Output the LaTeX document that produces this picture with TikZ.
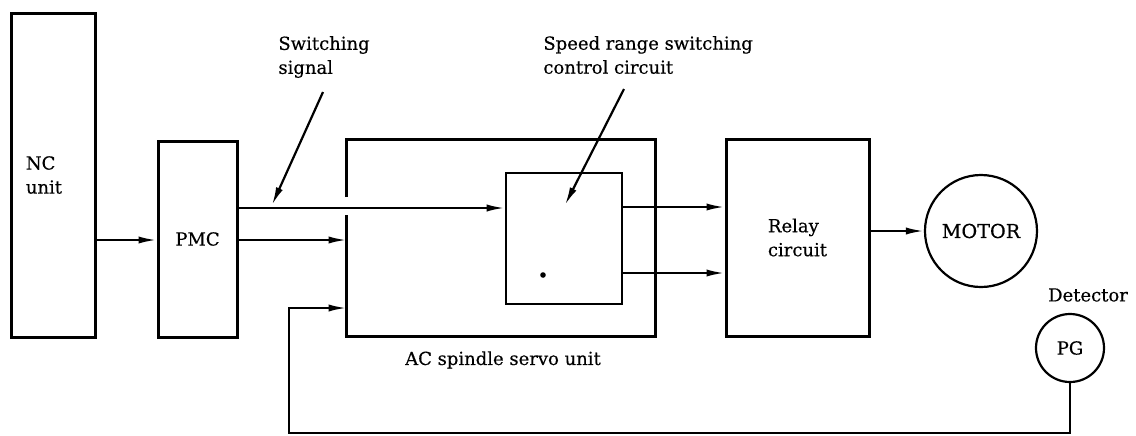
\documentclass[tikz,border=0pt]{standalone}
\usepackage{fontspec}
\setmainfont{DejaVu Serif}[FakeBold=0.4]
\usetikzlibrary{arrows.meta}

\begin{document}
\begin{tikzpicture}[x=0.5pt,y=-0.5pt,
    font=\fontsize{9}{12}\selectfont,
    unitbox/.style={draw, line width=1.5pt, inner sep=0pt, align=left},
    flow/.style={line width=1.1pt, -{Latex[length=9pt,width=3.6pt]}},
    roundunit/.style={draw, circle, line width=1.1pt, inner sep=0pt}]
  \useasboundingbox (0,0) rectangle (1136,435);

  % blocks
  \node[unitbox, minimum width=42pt, minimum height=162pt] (nc) at (53,175) {};
  \node[anchor=west, align=left, inner sep=0pt] (nctext) at ([xshift=8pt]nc.west) {NC\\unit};
  \node[unitbox, minimum width=39.5pt, minimum height=98pt] (pmc) at (197.5,239) {PMC};
  \node[minimum width=154pt, minimum height=98pt, inner sep=0pt] (servo) at (501,238) {};
  \draw[line width=1.5pt] (servo.west |- 0,197) -- (servo.north west) -- (servo.north east)
    -- (servo.south east) -- (servo.south west) -- (servo.west |- 0,215);
  \node[unitbox, line width=1.3pt, minimum width=58pt, minimum height=65.5pt] (inner) at (564,238.5) {};
  \fill (543,275) circle (1.4pt);
  \node[unitbox, minimum width=71.5pt, minimum height=98.5pt] (relay) at (797.5,237.5) {Relay\\circuit};
  \node[roundunit, minimum size=56pt, font=\fontsize{9.6}{12}\selectfont] (motor) at (981,231) {MOTOR};
  \node[roundunit, minimum size=34pt] (pg) at (1070,348) {PG};

  % labels
  \node[anchor=west, align=left, inner sep=0pt] (swtext) at (278,57) {Switching\\signal};
  \node[anchor=west, align=left, inner sep=0pt] (srtext) at (543,55) {Speed range switching\\control circuit};
  \node (servotext) at (503,360) {AC spindle servo unit};
  \node (dettext) at (1088,295) {Detector};

  % levels
  \coordinate (swlevel) at (0,208);
  \coordinate (cmdlevel) at (0,240);
  \coordinate (outa) at (0,207);
  \coordinate (outb) at (0,273);
  \coordinate (fbcorner) at (289,433);
  \coordinate (fbin) at (289,308);
  \coordinate (swtail) at (323,92);
  \coordinate (swtip) at (272,205);
  \coordinate (srtail) at (624,89);
  \coordinate (srtip) at (565,205);

  % connectors
  \draw[flow] (nc.east |- cmdlevel) -- (pmc.west |- cmdlevel);
  \draw[flow] (pmc.east |- swlevel) -- (inner.west |- swlevel);
  \draw[flow] (pmc.east |- cmdlevel) -- (servo.west |- cmdlevel);
  \draw[flow] (inner.east |- outa) -- (relay.west |- outa);
  \draw[flow] (inner.east |- outb) -- (relay.west |- outb);
  \draw[flow] (relay.east |- motor.west) -- (motor.west);
  \draw[flow] (pg.south) |- (fbcorner) -- (fbin) -- (servo.west |- fbin);
  \draw[flow] (swtail) -- (swtip);
  \draw[flow] (srtail) -- (srtip);
\end{tikzpicture}
\end{document}
